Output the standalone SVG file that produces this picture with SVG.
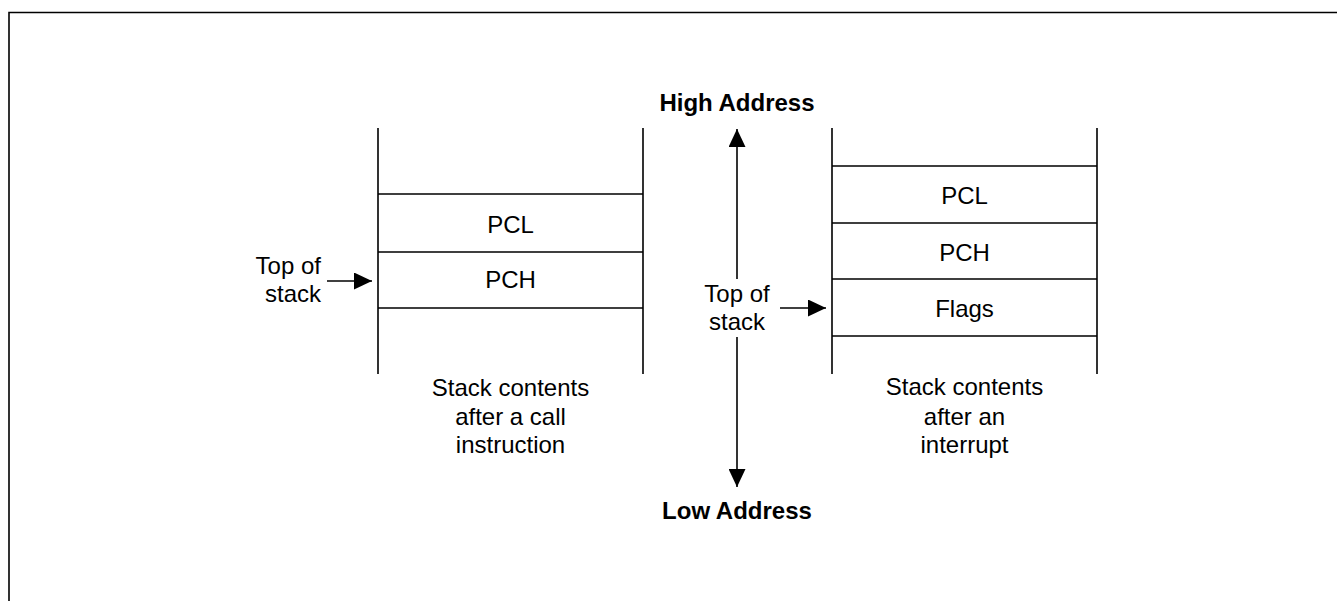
<svg xmlns="http://www.w3.org/2000/svg" width="1337" height="601" viewBox="0 0 1337 601">
<style>
.ln{stroke:#000;stroke-width:1.6;fill:none}
.t{font-family:"Liberation Sans",Arial,sans-serif;font-size:24px;fill:#000;text-anchor:middle}
.b{font-weight:bold}
.r{text-anchor:end}
</style>
<defs>
<marker id="ah" viewBox="0 0 18 17" refX="18" refY="8.5" markerWidth="18" markerHeight="17" markerUnits="userSpaceOnUse" orient="auto">
<path d="M0,0 L18,8.5 L0,17 Z" fill="#000"/>
</marker>
</defs>
<rect width="1337" height="601" fill="#fff"/>
<g id="frame">
<path class="ln" d="M9,601 V12.5 H1337" stroke-width="2"/>
</g>
<g id="stack-call">
<path class="ln" d="M378,128 V374 M643,128 V374 M378,194 H643 M378,252 H643 M378,308 H643"/>
<text class="t" x="510.5" y="233">PCL</text>
<text class="t" x="510.5" y="288">PCH</text>
<text class="t" x="510.5" y="396">Stack contents</text>
<text class="t" x="510.5" y="425">after a call</text>
<text class="t" x="510.5" y="453">instruction</text>
</g>
<g id="tos-left">
<text class="t r" x="321" y="274">Top of</text>
<text class="t r" x="321" y="302">stack</text>
</g>
<g id="stack-int">
<path class="ln" d="M832,128 V374 M1097,128 V374 M832,166 H1097 M832,223 H1097 M832,279 H1097 M832,336 H1097"/>
<text class="t" x="964.5" y="204">PCL</text>
<text class="t" x="964.5" y="261">PCH</text>
<text class="t" x="964.5" y="317">Flags</text>
<text class="t" x="964.5" y="395">Stack contents</text>
<text class="t" x="964.5" y="425">after an</text>
<text class="t" x="964.5" y="453">interrupt</text>
</g>
<g id="tos-mid">
<text class="t" x="737" y="302">Top of</text>
<text class="t" x="737" y="330">stack</text>
</g>
<g id="high">
<text class="t b" x="737" y="111">High Address</text>
</g>
<g id="low">
<text class="t b" x="737" y="519">Low Address</text>
</g>
<g id="connectors">
<path class="ln" d="M327,281 H372" marker-end="url(#ah)"/>
<path class="ln" d="M780,308 H826" marker-end="url(#ah)"/>
<path class="ln" d="M737,279 V129" marker-end="url(#ah)"/>
<path class="ln" d="M737,337 V487" marker-end="url(#ah)"/>
</g>
</svg>
